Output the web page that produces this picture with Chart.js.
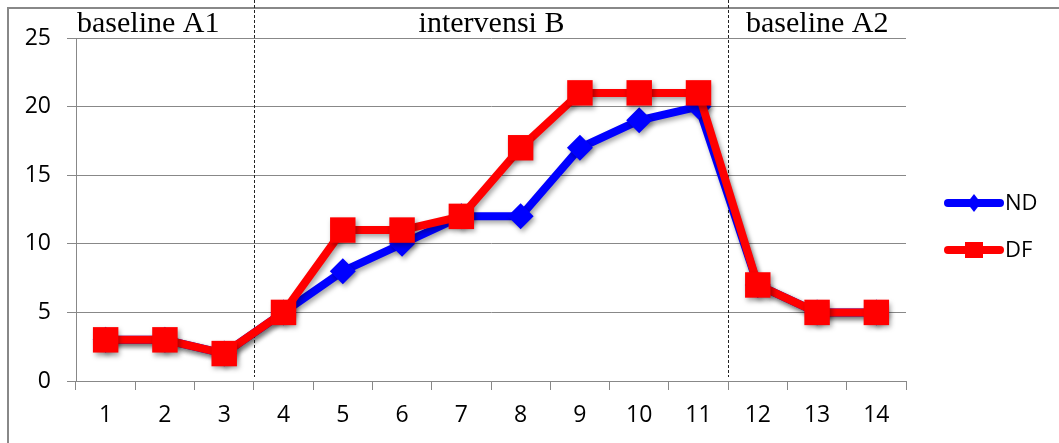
<!DOCTYPE html>
<html><head><meta charset="utf-8">
<script src="https://cdn.jsdelivr.net/npm/chart.js@4/dist/chart.umd.min.js"></script>
<style>html,body{margin:0;padding:0;background:#fff;}#wrap{position:absolute;left:0;top:0;width:1059px;height:443px;}</style>
</head><body><div id="wrap"><canvas id="c" width="1059" height="443"></canvas></div>
<script>
const categories = ['1','2','3','4','5','6','7','8','9','10','11','12','13','14'];
const ndValues = [3,3,2,5,8,10,12,12,17,19,20,7,5,5];
const dfValues = [3,3,2,5,11,11,12,17,21,21,21,7,5,5];
const phaseLabels = ['baseline A1','intervensi B','baseline A2'];
const phaseBreaks = [3, 11]; // phase change after these category counts
const seriesNames = ['ND','DF'];

const tickFont = {family:'Open Sans', size:23};

const decor = {
  id:'decor',
  beforeDraw(chart){
    const ctx = chart.ctx;
    ctx.save();
    ctx.strokeStyle = '#888';
    ctx.lineWidth = 2;
    ctx.beginPath();
    ctx.moveTo(8, 443); ctx.lineTo(8, 8); ctx.lineTo(1059, 8);
    ctx.stroke();
    ctx.restore();
  },
  beforeDatasetsDraw(chart){
    const ctx = chart.ctx;
    const x = chart.scales.x;
    const area = chart.chartArea;
    ctx.save();
    ctx.strokeStyle = '#222';
    ctx.lineWidth = 1;
    ctx.setLineDash([3,2]);
    const bounds = [area.left];
    phaseBreaks.forEach(b => {
      const px = Math.round((x.getPixelForValue(b-1) + x.getPixelForValue(b)) / 2) + 0.5;
      bounds.push(px);
      ctx.beginPath(); ctx.moveTo(px, 0); ctx.lineTo(px, area.bottom - 4); ctx.stroke();
    });
    bounds.push(area.right);
    ctx.setLineDash([]);
    ctx.fillStyle = '#000';
    ctx.font = '30px "Liberation Serif", "Times New Roman", serif';
    ctx.textBaseline = 'alphabetic';
    phaseLabels.forEach((t, i) => {
      if (i === 0) { ctx.textAlign = 'left'; ctx.fillText(t, bounds[0] + 1, 32); }
      else { ctx.textAlign = 'center'; ctx.fillText(t, (bounds[i] + bounds[i+1]) / 2, 32); }
    });
    ctx.restore();
    ctx.save();
    ctx.shadowColor = 'rgba(0,0,0,0.35)';
    ctx.shadowBlur = 5;
    ctx.shadowOffsetX = 2;
    ctx.shadowOffsetY = 3;
  },
  afterDatasetsDraw(chart){
    chart.ctx.restore();
  },
  afterDraw(chart){
    const ctx = chart.ctx;
    const items = [
      {name: seriesNames[0], color:'#0000FF', y:203, style:'diamond'},
      {name: seriesNames[1], color:'#FF0000', y:250, style:'square'}
    ];
    ctx.save();
    items.forEach(it => {
      ctx.strokeStyle = it.color; ctx.fillStyle = it.color;
      ctx.lineWidth = 8; ctx.lineCap = 'round';
      ctx.beginPath(); ctx.moveTo(948, it.y); ctx.lineTo(1000, it.y); ctx.stroke();
      ctx.beginPath();
      if (it.style === 'diamond') {
        ctx.moveTo(974, it.y-9); ctx.lineTo(981, it.y); ctx.lineTo(974, it.y+9); ctx.lineTo(967, it.y);
      } else {
        ctx.rect(965, it.y-8, 18, 16);
      }
      ctx.fill();
      ctx.fillStyle = '#000';
      ctx.font = '22px "Open Sans"';
      ctx.textAlign = 'left'; ctx.textBaseline = 'middle';
      ctx.fillText(it.name, 1005, it.y + 1);
    });
    ctx.restore();
  }
};

new Chart(document.getElementById('c'), {
  type:'line',
  data:{
    labels: categories,
    datasets:[
      {label: seriesNames[1], data: dfValues, borderColor:'#FF0000', backgroundColor:'#FF0000', borderWidth:8,
       pointStyle:'rect', pointRadius:18, pointBorderWidth:0, tension:0, order:0},
      {label: seriesNames[0], data: ndValues, borderColor:'#0000FF', backgroundColor:'#0000FF', borderWidth:8,
       pointStyle:'rectRot', pointRadius:13, pointBorderWidth:0, tension:0, order:1}
    ]
  },
  options:{
    responsive:false, animation:false, devicePixelRatio:1,
    layout:{padding:{left:0, right:153, top:38, bottom:0}},
    plugins:{legend:{display:false}, tooltip:{enabled:false}},
    scales:{
      x:{
        offset:true,
        grid:{offset:true, drawOnChartArea:false, drawTicks:true, tickLength:9, color:'#888', lineWidth:1},
        border:{display:true, color:'#888', width:1},
        ticks:{color:'#000', font:tickFont, padding:12, maxRotation:0},
        afterFit(s){ s.height = 62; }
      },
      y:{
        min:0, max:25,
        grid:{color:'#888', lineWidth:1, tickLength:9},
        border:{display:true, color:'#888', width:1},
        ticks:{stepSize:5, color:'#000', font:tickFont, padding:16},
        afterFit(s){ s.width = 76; }
      }
    }
  },
  plugins:[decor]
});
</script></body></html>
